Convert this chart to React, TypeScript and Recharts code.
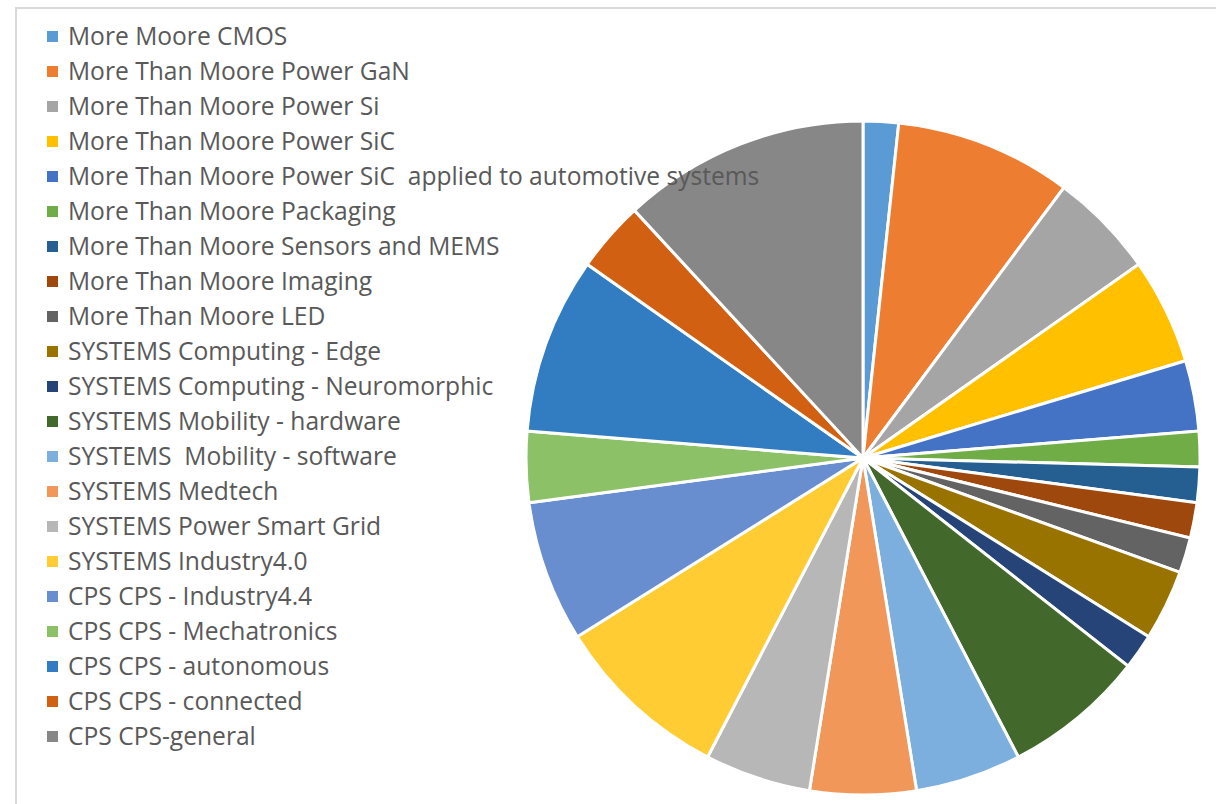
import React from 'react';
import { PieChart, Pie, Cell } from 'recharts';

const categories = [
  'More Moore CMOS',
  'More Than Moore Power GaN',
  'More Than Moore Power Si',
  'More Than Moore Power SiC',
  'More Than Moore Power SiC  applied to automotive systems',
  'More Than Moore Packaging',
  'More Than Moore Sensors and MEMS',
  'More Than Moore Imaging',
  'More Than Moore LED',
  'SYSTEMS Computing - Edge',
  'SYSTEMS Computing - Neuromorphic',
  'SYSTEMS Mobility - hardware',
  'SYSTEMS  Mobility - software',
  'SYSTEMS Medtech',
  'SYSTEMS Power Smart Grid',
  'SYSTEMS Industry4.0',
  'CPS CPS - Industry4.4',
  'CPS CPS - Mechatronics',
  'CPS CPS - autonomous',
  'CPS CPS - connected',
  'CPS CPS-general',
];

const values = [1, 5, 3, 3, 2, 1, 1, 1, 1, 2, 1, 4, 3, 3, 3, 5, 4, 2, 5, 2, 7];

const colors = [
  '#5B9BD5', '#ED7D31', '#A5A5A5', '#FFC000', '#4472C4', '#70AD47',
  '#255E91', '#9E480E', '#636363', '#997300', '#264478', '#43682B',
  '#7CAFDD', '#F1975A', '#B7B7B7', '#FFCD33', '#698ED0', '#8CC168',
  '#327DC2', '#D26012', '#878787',
];

const data = categories.map((name, i) => ({ name, value: values[i] }));

export default function App() {
  return (
    <div
      style={{
        position: 'absolute',
        left: 0,
        top: 0,
        width: 1216,
        height: 804,
        background: '#fff',
        overflow: 'hidden',
        fontFamily: '"Open Sans", "Noto Sans", sans-serif',
      }}
    >
      <div
        style={{
          position: 'absolute',
          left: 15,
          top: 7,
          width: 1300,
          height: 900,
          border: '2px solid #D9D9D9',
        }}
      />
      <div style={{ position: 'absolute', left: 0, top: 0 }}>
        <PieChart width={1216} height={804} margin={{ top: 0, right: 0, bottom: 0, left: 0 }}>
          <Pie
            data={data}
            dataKey="value"
            nameKey="name"
            cx={863}
            cy={458}
            outerRadius={337}
            startAngle={90}
            endAngle={-270}
            stroke="#fff"
            strokeWidth={3}
            isAnimationActive={false}
          >
            {data.map((d, i) => (
              <Cell key={d.name} fill={colors[i]} />
            ))}
          </Pie>
        </PieChart>
      </div>
      <div style={{ position: 'absolute', left: 0, top: 0 }}>
        {categories.map((name, i) => (
          <div
            key={name}
            style={{
              position: 'absolute',
              left: 0,
              top: 18.5 + 35 * i,
              height: 35,
              width: 900,
            }}
          >
            <div
              style={{
                position: 'absolute',
                left: 47,
                top: 12,
                width: 11,
                height: 11,
                background: colors[i],
              }}
            />
            <div
              style={{
                position: 'absolute',
                left: 68,
                top: -1,
                height: 35,
                lineHeight: '35px',
                fontSize: 24.6,
                color: '#595959',
                whiteSpace: 'pre',
              }}
            >
              {name}
            </div>
          </div>
        ))}
      </div>
    </div>
  );
}
